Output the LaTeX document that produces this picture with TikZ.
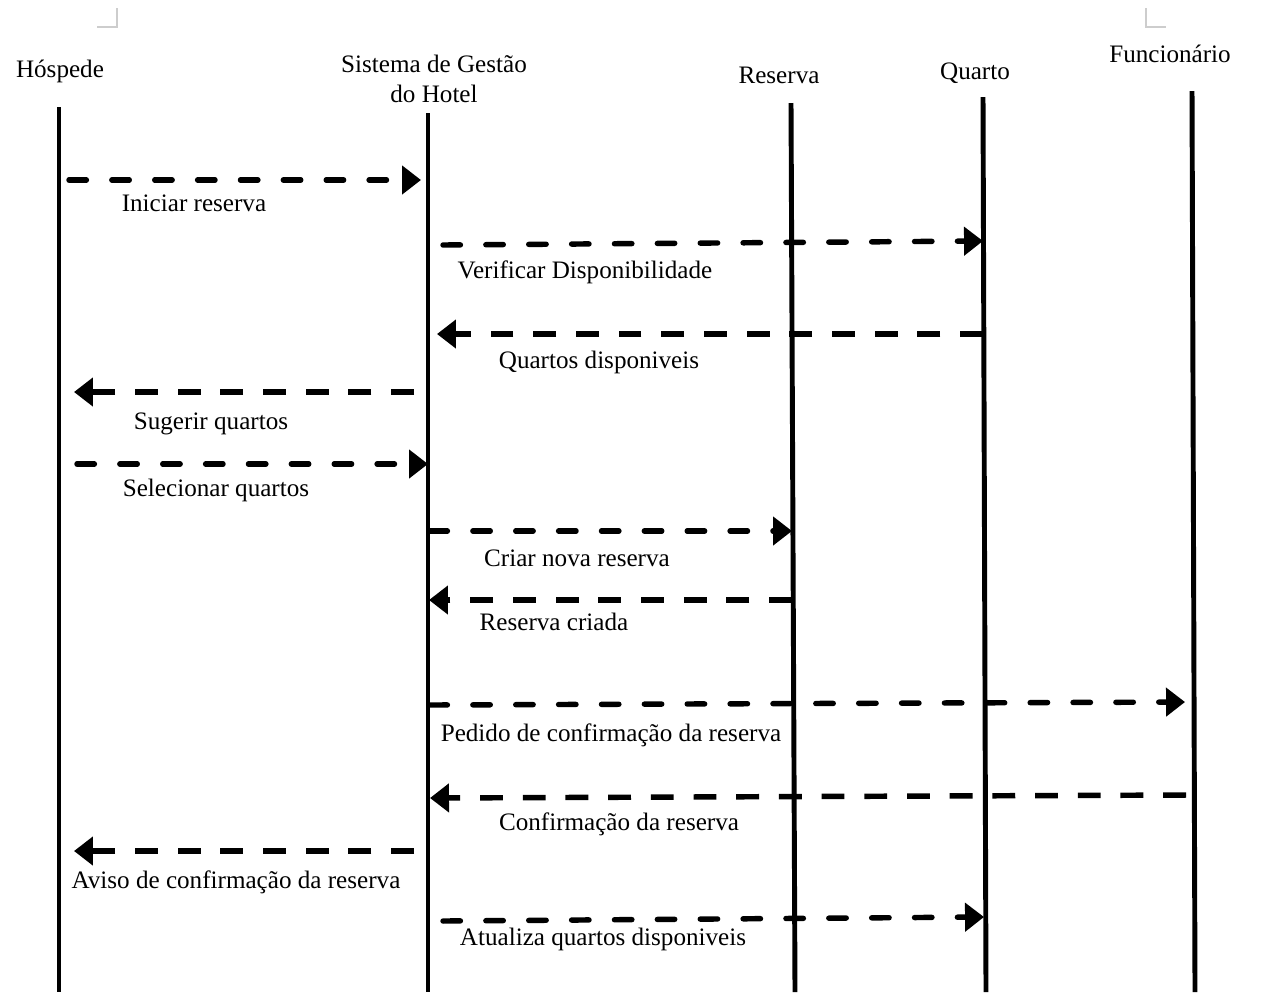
\documentclass[tikz,border=0pt]{standalone}
\usepackage{fontspec}
\setmainfont{Liberation Serif}
\usetikzlibrary{arrows.meta, positioning}
\definecolor{markcol}{RGB}{205,205,205}

\begin{document}
\begin{tikzpicture}[
			x=0.02cm,
			y=-0.02cm,
			lifeline/.style={
				line width=2.8pt
			},
			actor/.style={
				font=\fontsize{14.3}{17}\selectfont,
				align=center,
				inner sep=0pt,
				anchor=base
			},
			lbl/.style={
				font=\fontsize{14.3}{17}\selectfont,
				inner sep=0pt,
				anchor=base
			},
			msg/.style={
				line width=3.1pt,
				line cap=round,
				dash pattern=on 9.9pt off 14.5pt,
				-{Triangle[length=10.8pt,width=15.9pt]}
			},
			reply/.style={
				msg,
				line cap=butt,
				dash pattern=on 13pt off 11.3pt
			},
			cornermark/.style={
				draw=markcol,
				line width=0.6pt
			}
			]
			\useasboundingbox (0,0) rectangle (1266,992);
			
			% Page corner marks
			\draw[cornermark] (117,8) -- (117,27) -- (97,27);
			\draw[cornermark] (1146,8) -- (1146,27) -- (1166,27);
			
			% Actors
			\node[actor] (hosp) at (60,77) {Hóspede};
			\node[actor] (sist) at (434,102) {Sistema de Gestão\\do Hotel};
			\node[actor] (res)  at (779,83) {Reserva};
			\node[actor] (quar) at (975,79) {Quarto};
			\node[actor] (func) at (1170,62) {Funcionário};
			
			% Lifelines
			\coordinate (hospT) at (59,107);  \coordinate (hospB) at (59,992);
			\coordinate (sistT) at (428,113); \coordinate (sistB) at (428,992);
			\coordinate (resT)  at (791,103); \coordinate (resB)  at (795,992);
			\coordinate (quarT) at (983,97);  \coordinate (quarB) at (986,992);
			\coordinate (funcT) at (1192,91); \coordinate (funcB) at (1195,992);
			\draw[lifeline] (hospT) -- (hospB);
			\draw[lifeline] (sistT) -- (sistB);
			\draw[lifeline] (resT) -- (resB);
			\draw[lifeline] (quarT) -- (quarB);
			\draw[lifeline] (funcT) -- (funcB);
			
			% Message ends
			\coordinate (m1a)  at (69,180);   \coordinate (m1b)  at (421,180);
			\coordinate (m2a)  at (443,245);  \coordinate (m2b)  at (983,241);
			\coordinate (m3a)  at (983,334);  \coordinate (m3b)  at (437,334);
			\coordinate (m4a)  at (414,392);  \coordinate (m4b)  at (74,392);
			\coordinate (m5a)  at (77,464);   \coordinate (m5b)  at (428,464);
			\coordinate (m6a)  at (430,531);  \coordinate (m6b)  at (792,531);
			\coordinate (m7a)  at (792,600);  \coordinate (m7b)  at (429,600);
			\coordinate (m8a)  at (430,705);  \coordinate (m8b)  at (1185,702);
			\coordinate (m9a)  at (1186,795); \coordinate (m9b)  at (430,798);
			\coordinate (m10a) at (414,851);  \coordinate (m10b) at (74,851);
			\coordinate (m11a) at (443,921);  \coordinate (m11b) at (984,917);
			
			% Messages
			\draw[msg]   (m1a) -- (m1b);
			\draw[msg]   (m2a) -- (m2b);
			\draw[reply] (m3a) -- (m3b);
			\draw[reply] (m4a) -- (m4b);
			\draw[msg]   (m5a) -- (m5b);
			\draw[msg]   (m6a) -- (m6b);
			\draw[reply] (m7a) -- (m7b);
			\draw[msg]   (m8a) -- (m8b);
			\draw[reply] (m9a) -- (m9b);
			\draw[reply] (m10a) -- (m10b);
			\draw[msg]   (m11a) -- (m11b);
			
			% Labels
			\node[lbl] (l1)  at (194,211) {Iniciar reserva};
			\node[lbl] (l2)  at (585,278) {Verificar Disponibilidade};
			\node[lbl] (l3)  at (599,368) {Quartos disponiveis};
			\node[lbl] (l4)  at (211,429) {Sugerir quartos};
			\node[lbl] (l5)  at (216,496) {Selecionar quartos};
			\node[lbl] (l6)  at (577,566) {Criar nova reserva};
			\node[lbl] (l7)  at (554,630) {Reserva criada};
			\node[lbl] (l8)  at (611,741) {Pedido de confirmação da reserva};
			\node[lbl] (l9)  at (619,830) {Confirmação da reserva};
			\node[lbl] (l10) at (236,888) {Aviso de confirmação da reserva};
			\node[lbl] (l11) at (603,945) {Atualiza quartos disponiveis};
		\end{tikzpicture}
\end{document}
